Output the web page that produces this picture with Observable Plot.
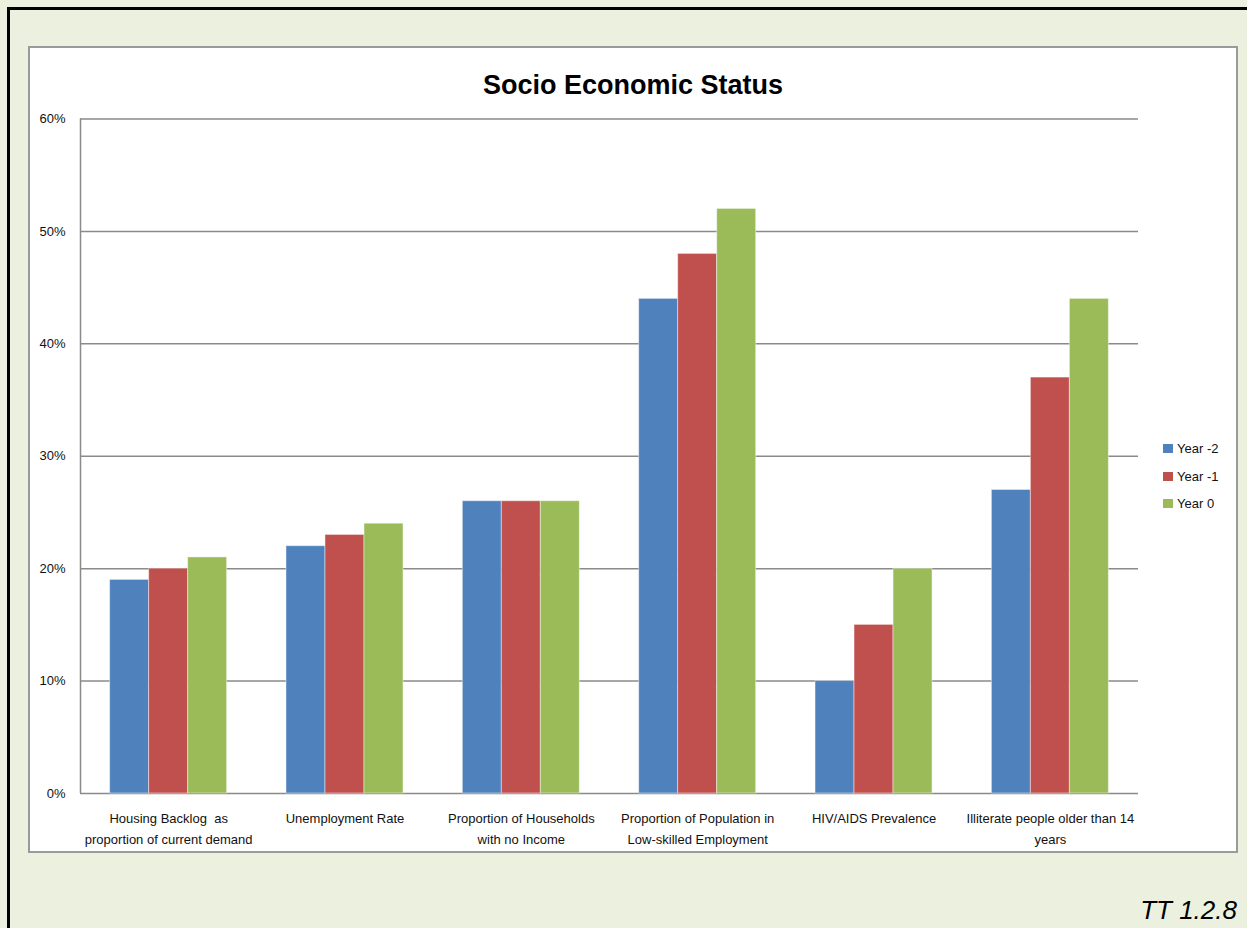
<!DOCTYPE html>
<html>
<head>
<meta charset="utf-8">
<script src="https://cdn.jsdelivr.net/npm/d3@7"></script>
<script src="https://cdn.jsdelivr.net/npm/@observablehq/plot@0.6"></script>
<style>
  html, body { margin: 0; padding: 0; overflow: hidden; }
  body { width: 1247px; height: 928px; background: #EBF1DE; position: relative; font-family: "Liberation Sans", Arial, sans-serif; }
  #outer { position: absolute; left: 7px; top: 7px; width: 1300px; height: 1000px; border-left: 3px solid #000; border-top: 3px solid #000; box-sizing: border-box; }
  #inner { position: absolute; left: 28px; top: 46px; width: 1210px; height: 807px; background: #fff; border: 2px solid #9a9a9a; box-sizing: border-box; }
  .layer { position: absolute; left: 30px; top: 48px; }
  #title { position: absolute; left: 30px; width: 1206px; top: 71.6px; line-height: 27px; text-align: center; font-weight: bold; font-size: 27px; letter-spacing: 0px; color: #000; }
  #legend { position: absolute; left: 1163px; top: 435px; font-size: 13px; color: #111; }
  #legend .row { display: flex; align-items: center; height: 27.6px; }
  #legend .sw { width: 10px; height: 9px; margin-right: 4px; }
  #caption { position: absolute; right: 10px; top: 897px; line-height: 26px; font-size: 26px; font-style: italic; color: #000; }
</style>
</head>
<body>
<div id="outer"></div>
<div id="inner"></div>
<div id="title">Socio Economic Status</div>
<div id="bg" class="layer"></div>
<div id="fg" class="layer"></div>
<div id="legend"></div>
<div id="caption">TT 1.2.8</div>
<script>
// ---- data ----
const categories = [
  "Housing Backlog as proportion of current demand",
  "Unemployment Rate",
  "Proportion of Households with no Income",
  "Proportion of Population in Low-skilled Employment",
  "HIV/AIDS Prevalence",
  "Illiterate people older than 14 years"
];
const categoryLabels = [
  "Housing Backlog  as\nproportion of current demand",
  "Unemployment Rate",
  "Proportion of Households\nwith no Income",
  "Proportion of Population in\nLow-skilled Employment",
  "HIV/AIDS Prevalence",
  "Illiterate people older than 14\nyears"
];
const seriesNames = ["Year -2", "Year -1", "Year 0"];
const yearMinus2 = [0.19, 0.22, 0.26, 0.44, 0.10, 0.27];
const yearMinus1 = [0.20, 0.23, 0.26, 0.48, 0.15, 0.37];
const year0      = [0.21, 0.24, 0.26, 0.52, 0.20, 0.44];
const colors = ["#4F81BD", "#C0504D", "#9BBB59"];
const yTicks = [0, 0.1, 0.2, 0.3, 0.4, 0.5, 0.6];

const seriesValues = [yearMinus2, yearMinus1, year0];
const table = [];
categories.forEach((c, i) => {
  seriesNames.forEach((s, j) => table.push({category: c, series: s, value: seriesValues[j][i]}));
});
const labelOf = new Map(categories.map((c, i) => [c, categoryLabels[i]]));

const W = 1206, H = 803;
const margins = {marginLeft: 50, marginRight: 98, marginTop: 70.5, marginBottom: 58};
const font = {fontFamily: "'Liberation Sans', Arial, sans-serif", fontSize: "13px", background: "transparent", color: "#111", overflow: "visible"};

// background: gridlines, y axis, left axis line
const bg = Plot.plot({
  width: W, height: H, ...margins,
  style: font,
  x: {domain: [0, 1], axis: null},
  y: {domain: [0, 0.6], axis: null},
  marks: [
    Plot.ruleY(yTicks, {stroke: "#8a8a8a", strokeWidth: 1.5}),
    Plot.ruleX([0], {stroke: "#8a8a8a", strokeWidth: 1.5}),
    Plot.axisY({ticks: yTicks, tickSize: 0, tickPadding: 15, tickFormat: d3.format(".0%"), fontSize: 13})
  ]
});
document.getElementById("bg").appendChild(bg);

// foreground: grouped bars
const fg = Plot.plot({
  width: W, height: H, ...margins,
  style: font,
  fx: {domain: categories, paddingInner: 0.3365, paddingOuter: 0.168, round: false, label: null},
  x: {domain: seriesNames, padding: 0, round: false, axis: null},
  y: {domain: [0, 0.6], axis: null},
  color: {domain: seriesNames, range: colors},
  marks: [
    Plot.barY(table, {fx: "category", x: "series", y: "value", fill: "series", stroke: "#ffffff", strokeOpacity: 0.45, strokeWidth: 1}),
    Plot.axisFx({anchor: "bottom", tickSize: 0, tickPadding: 15, lineHeight: 1.58, fontSize: 13, tickFormat: d => labelOf.get(d), label: null})
  ]
});
document.getElementById("fg").appendChild(fg);

// legend
const legend = document.getElementById("legend");
seriesNames.forEach((s, i) => {
  const row = document.createElement("div");
  row.className = "row";
  const sw = document.createElement("div");
  sw.className = "sw";
  sw.style.background = colors[i];
  const t = document.createElement("span");
  t.textContent = s;
  row.appendChild(sw); row.appendChild(t);
  legend.appendChild(row);
});
</script>
</body>
</html>
